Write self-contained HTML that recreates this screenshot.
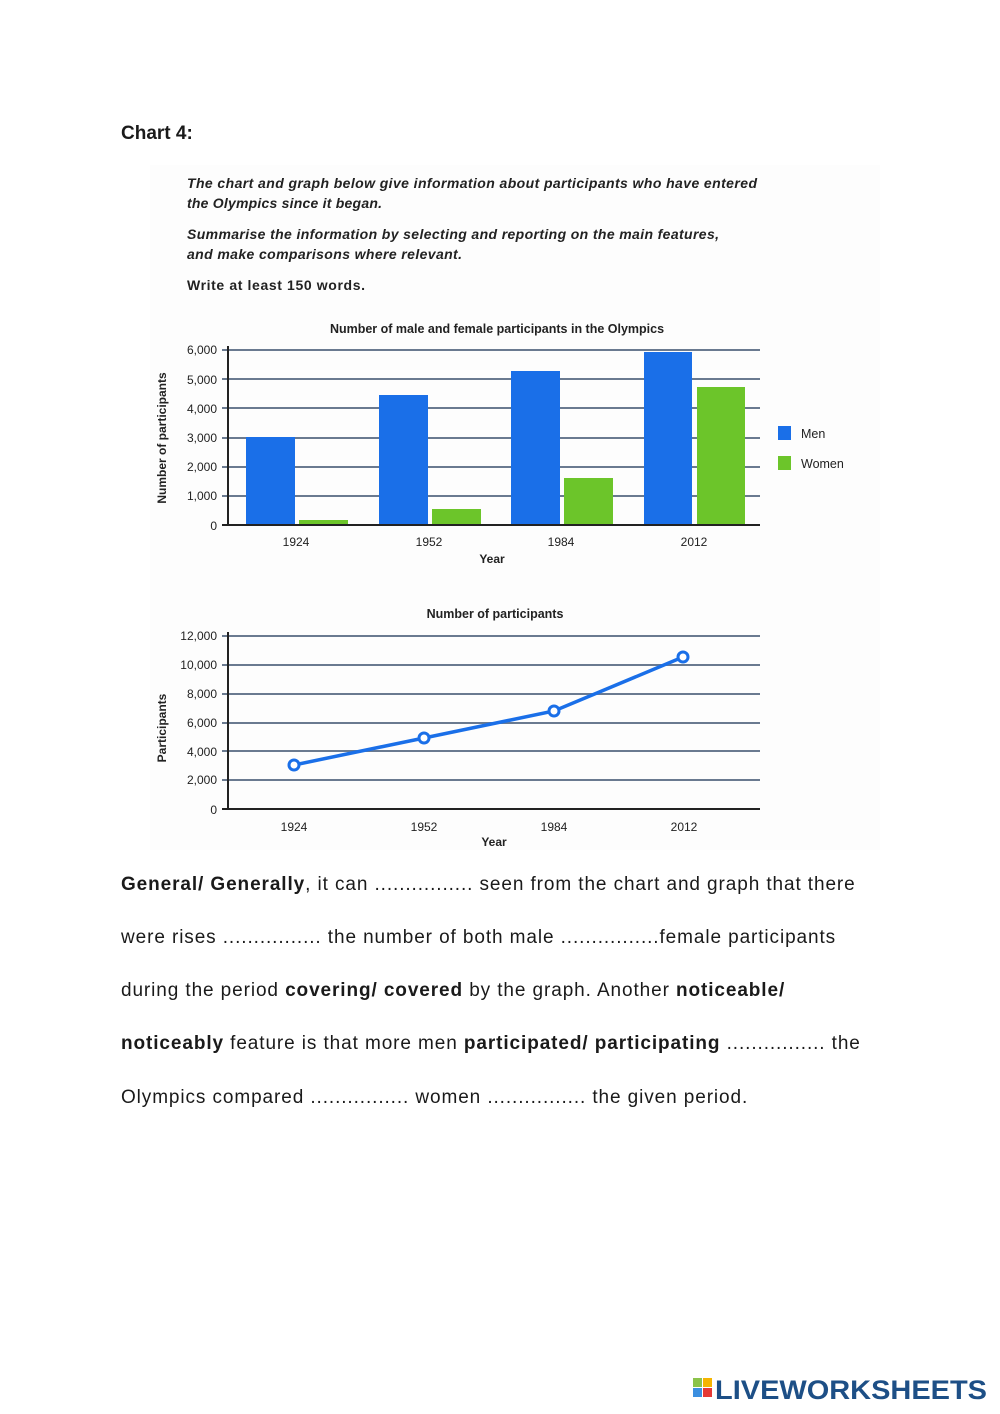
<!DOCTYPE html>
<html><head><meta charset="utf-8"><style>
body{margin:0;background:#fff;width:1000px;height:1414px;position:relative;font-family:"Liberation Sans",sans-serif;overflow:hidden}
.t{position:absolute;left:121px;font-size:19px;color:#1a1a1a;white-space:nowrap;letter-spacing:0.9px}
b{font-weight:bold}
</style></head><body>
<div class="t" style="top:123px;font-weight:bold;letter-spacing:0">Chart 4:</div>
<svg style="position:absolute;left:0;top:0" width="1000" height="860" font-family="Liberation Sans, sans-serif">
<rect x="150" y="165" width="730" height="685" fill="#fdfdfd"/>
<g font-style="italic" font-weight="bold" font-size="14" fill="#222" font-family="Liberation Sans Narrow, Liberation Sans, sans-serif">
<text x="187" y="188" textLength="570">The chart and graph below give information about participants who have entered</text>
<text x="187" y="208" textLength="195">the Olympics since it began.</text>
<text x="187" y="239" textLength="532">Summarise the information by selecting and reporting on the main features,</text>
<text x="187" y="259" textLength="275">and make comparisons where relevant.</text>
<text x="187" y="290" font-style="normal" textLength="178">Write at least 150 words.</text>
</g>
<text x="497" y="333" text-anchor="middle" font-size="12.5" font-weight="bold" fill="#222">Number of male and female participants in the Olympics</text>
<g stroke="#6a7a90" stroke-width="2">
<line x1="222" y1="350" x2="760" y2="350"/><line x1="222" y1="379" x2="760" y2="379"/><line x1="222" y1="408" x2="760" y2="408"/><line x1="222" y1="438" x2="760" y2="438"/><line x1="222" y1="467" x2="760" y2="467"/><line x1="222" y1="496" x2="760" y2="496"/>
</g>
<g fill="#1a6fe8">
<rect x="246" y="437" width="49" height="88"/><rect x="379" y="395" width="49" height="130"/><rect x="511" y="371" width="49" height="154"/><rect x="644" y="352" width="48" height="173"/>
</g>
<g fill="#6cc52a">
<rect x="299" y="520" width="49" height="5"/><rect x="432" y="509" width="49" height="16"/><rect x="564" y="478" width="49" height="47"/><rect x="697" y="387" width="48" height="138"/>
</g>
<line x1="228" y1="346" x2="228" y2="526" stroke="#222" stroke-width="2"/>
<line x1="222" y1="525" x2="760" y2="525" stroke="#222" stroke-width="2"/>
<g font-size="12" fill="#222" text-anchor="end">
<text x="217" y="354">6,000</text><text x="217" y="384">5,000</text><text x="217" y="413">4,000</text><text x="217" y="442">3,000</text><text x="217" y="471">2,000</text><text x="217" y="500">1,000</text><text x="217" y="530">0</text>
</g>
<g font-size="12" fill="#222" text-anchor="middle">
<text x="296" y="546">1924</text><text x="429" y="546">1952</text><text x="561" y="546">1984</text><text x="694" y="546">2012</text>
<text x="492" y="563" font-weight="bold">Year</text>
</g>
<text transform="translate(166,438) rotate(-90)" text-anchor="middle" font-size="12" font-weight="bold" fill="#222">Number of participants</text>
<rect x="778" y="426" width="13" height="14" fill="#1a6fe8"/><text x="801" y="438" font-size="12.5" fill="#222">Men</text>
<rect x="778" y="456" width="13" height="14" fill="#6cc52a"/><text x="801" y="468" font-size="12.5" fill="#222">Women</text>

<text x="495" y="618" text-anchor="middle" font-size="12.5" font-weight="bold" fill="#222">Number of participants</text>
<g stroke="#6a7a90" stroke-width="2">
<line x1="222" y1="636" x2="760" y2="636"/><line x1="222" y1="665" x2="760" y2="665"/><line x1="222" y1="694" x2="760" y2="694"/><line x1="222" y1="723" x2="760" y2="723"/><line x1="222" y1="751" x2="760" y2="751"/><line x1="222" y1="780" x2="760" y2="780"/>
</g>
<line x1="228" y1="632" x2="228" y2="810" stroke="#222" stroke-width="2"/>
<line x1="222" y1="809" x2="760" y2="809" stroke="#222" stroke-width="2"/>
<g font-size="12" fill="#222" text-anchor="end">
<text x="217" y="640">12,000</text><text x="217" y="669">10,000</text><text x="217" y="698">8,000</text><text x="217" y="727">6,000</text><text x="217" y="756">4,000</text><text x="217" y="784">2,000</text><text x="217" y="814">0</text>
</g>
<g font-size="12" fill="#222" text-anchor="middle">
<text x="294" y="831">1924</text><text x="424" y="831">1952</text><text x="554" y="831">1984</text><text x="684" y="831">2012</text>
<text x="494" y="846" font-weight="bold">Year</text>
</g>
<text transform="translate(166,728) rotate(-90)" text-anchor="middle" font-size="12" font-weight="bold" fill="#222">Participants</text>
<polyline points="294,765 424,738 554,711 683,657" fill="none" stroke="#1a6fe8" stroke-width="3.5"/>
<g fill="#fff" stroke="#1a6fe8" stroke-width="3">
<circle cx="294" cy="765" r="5"/><circle cx="424" cy="738" r="5"/><circle cx="554" cy="711" r="5"/><circle cx="683" cy="657" r="5"/>
</g>
</svg>
<div class="t" style="top:874px"><b>General/ Generally</b>, it can ................ seen from the chart and graph that there</div>
<div class="t" style="top:927px">were rises ................ the number of both male ................female participants</div>
<div class="t" style="top:980px">during the period <b>covering/ covered</b> by the graph. Another <b>noticeable/</b></div>
<div class="t" style="top:1033px"><b>noticeably</b> feature is that more men <b>participated/ participating</b> ................ the</div>
<div class="t" style="top:1087px">Olympics compared ................ women ................ the given period.</div>
<svg style="position:absolute;left:690px;top:1376px" width="300" height="30">
<rect x="3" y="2" width="9" height="9" fill="#8bc34a"/><rect x="13" y="2" width="9" height="9" fill="#f5b400"/>
<rect x="3" y="12" width="9" height="9" fill="#3b8fe0"/><rect x="13" y="12" width="9" height="9" fill="#e53935"/>
<text x="25" y="23" font-family="Liberation Sans, sans-serif" font-weight="bold" font-size="27" fill="#1d4f86" textLength="272" lengthAdjust="spacingAndGlyphs">LIVEWORKSHEETS</text>
</svg>
</body></html>
